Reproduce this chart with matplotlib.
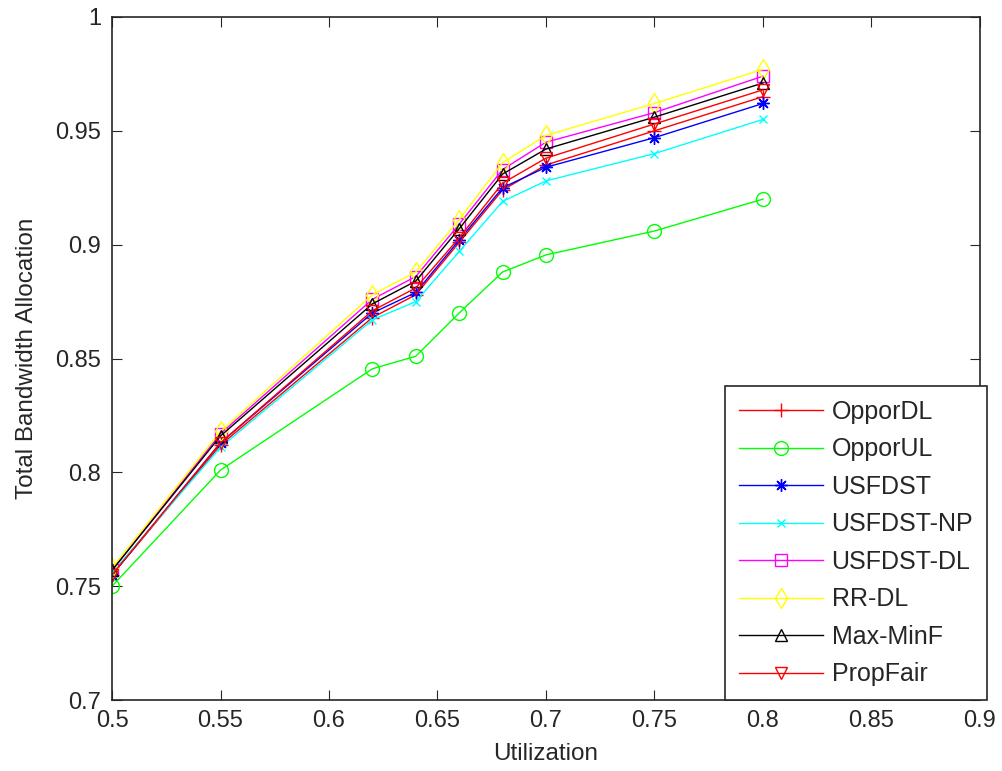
import matplotlib
matplotlib.use("Agg")
import matplotlib.pyplot as plt

plt.rcParams['font.family'] = ['Liberation Sans', 'DejaVu Sans']

utilization = [0.5, 0.55, 0.62, 0.64, 0.66, 0.68, 0.7, 0.75, 0.8]

oppor_dl = [0.755, 0.812, 0.868, 0.878, 0.901, 0.924, 0.935, 0.950, 0.965]
oppor_ul = [0.750, 0.801, 0.8455, 0.851, 0.870, 0.888, 0.8955, 0.906, 0.920]
usfdst = [0.755, 0.813, 0.870, 0.879, 0.902, 0.925, 0.934, 0.947, 0.962]
usfdst_np = [0.756, 0.811, 0.867, 0.875, 0.897, 0.919, 0.928, 0.940, 0.955]
usfdst_dl = [0.757, 0.817, 0.876, 0.886, 0.909, 0.933, 0.945, 0.958, 0.974]
rr_dl = [0.758, 0.818, 0.878, 0.888, 0.911, 0.936, 0.948, 0.962, 0.977]
max_minf = [0.757, 0.816, 0.874, 0.884, 0.907, 0.931, 0.942, 0.956, 0.971]
prop_fair = [0.755, 0.813, 0.871, 0.881, 0.903, 0.927, 0.938, 0.953, 0.968]

# asterisk = plus and cross drawn together
asterisk = (8, 2, 0)

series = [
    ('OpporDL', oppor_dl, '#ff0000', '+', 10),
    ('OpporUL', oppor_ul, '#00ff00', 'o', 10),
    ('USFDST', usfdst, '#0000ff', asterisk, 9),
    ('USFDST-NP', usfdst_np, '#00ffff', 'x', 6),
    ('USFDST-DL', usfdst_dl, '#ff00ff', 's', 9),
    ('RR-DL', rr_dl, '#ffff00', 'd', 10),
    ('Max-MinF', max_minf, '#000000', '^', 9),
    ('PropFair', prop_fair, '#ff0000', 'v', 9),
]

fig = plt.figure(figsize=(10.03, 7.71), dpi=100)
ax = fig.add_axes([0.1117, 0.092, 0.8653, 0.886])

for name, vals, col, mk, ms in series:
    ax.plot(utilization, vals, color=col, marker=mk, markersize=ms,
            markerfacecolor='none', markeredgecolor=col, linewidth=1,
            markeredgewidth=1, label=name)

ax.set_xlim(0.5, 0.9)
ax.set_ylim(0.7, 1.0)
ax.set_xticks([0.5, 0.55, 0.6, 0.65, 0.7, 0.75, 0.8, 0.85, 0.9])
ax.set_xticklabels(['0.5', '0.55', '0.6', '0.65', '0.7', '0.75', '0.8', '0.85', '0.9'])
ax.set_yticks([0.7, 0.75, 0.8, 0.85, 0.9, 0.95, 1.0])
ax.set_yticklabels(['0.7', '0.75', '0.8', '0.85', '0.9', '0.95', '1'])
ax.tick_params(direction='in', top=True, right=True, labelsize=17, length=7.5,
               color='#262626', labelcolor='#262626')
ax.tick_params(axis='x', pad=7)
ax.tick_params(axis='y', pad=8)
for sp in ax.spines.values():
    sp.set_linewidth(1.2)
    sp.set_color('#262626')
ax.set_xlabel('Utilization', fontsize=17.5, labelpad=8, color='#262626')
ax.set_ylabel('Total Bandwidth Allocation', fontsize=17.5, labelpad=12, color='#262626')

leg = ax.legend(loc='lower right', bbox_to_anchor=(987 / 1003, 1 - 700 / 771),
                bbox_transform=fig.transFigure, fontsize=18, fancybox=False,
                framealpha=1, edgecolor='#262626', borderaxespad=0,
                handlelength=3.35, handletextpad=0.35, labelspacing=0.54,
                borderpad=0.55)
leg.get_frame().set_linewidth(1.2)
for t in leg.get_texts():
    t.set_color('#262626')

fig.savefig('out.png', dpi=100)
